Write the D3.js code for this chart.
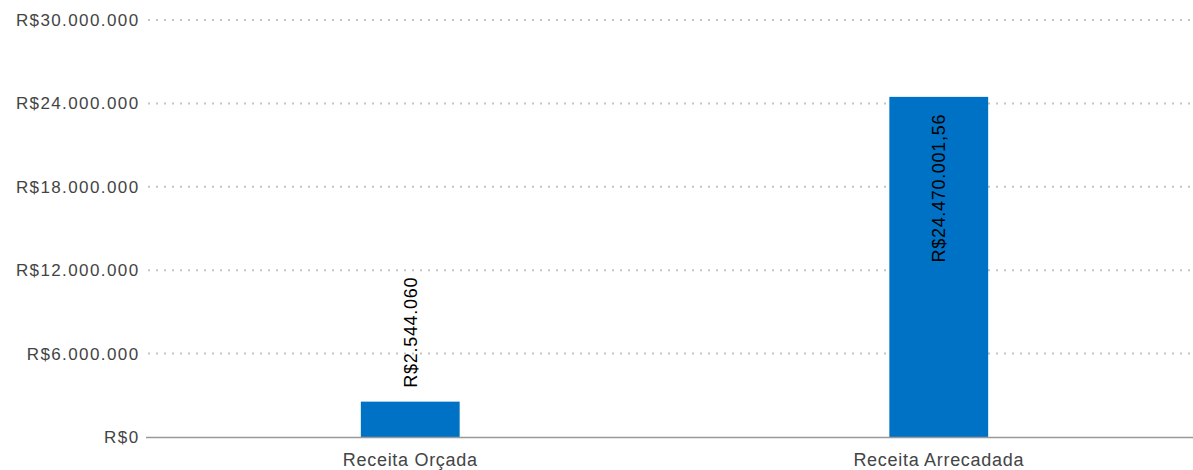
<!DOCTYPE html>
<html><head><meta charset="utf-8">
<script src="https://cdn.jsdelivr.net/npm/d3@7"></script>
<style>
html,body{margin:0;padding:0;background:#fff;}
svg{display:block;font-family:"Liberation Sans",Arial,sans-serif;}
</style></head>
<body>
<svg id="chart" width="1193" height="470"></svg>
<script>
const categories = ["Receita Orçada", "Receita Arrecadada"];
const values = [2544060, 24470001.56];
const yTicks = [0, 6000000, 12000000, 18000000, 24000000, 30000000];

const W = 1193, H = 470;
const svg = d3.select("#chart");
const loc = d3.formatLocale({decimal: ",", thousands: ".", grouping: [3], currency: ["R$", ""]});
const fmtTick = loc.format("$,.0f");
const fmtVal = loc.format("$,.2~f");

const y = d3.scaleLinear().domain([0, 30000000]).range([437, 20]);
const x = d3.scaleBand().domain(categories).range([146, 1203]).paddingInner(0.813).paddingOuter(0.4065);

// y axis labels
const yAxis = d3.axisLeft(y).tickValues(yTicks).tickFormat(fmtTick).tickSize(0).tickPadding(0);
const gy = svg.append("g").attr("transform", "translate(139.5,0)").call(yAxis);
gy.select(".domain").remove();
gy.selectAll("text").attr("fill", "#444").style("font-size", "17px").style("letter-spacing", "1.4px").attr("x", 0);

// gridlines
svg.append("g").selectAll("line").data(yTicks.filter(d => d > 0)).join("line")
  .attr("x1", 148).attr("x2", 1190)
  .attr("y1", d => y(d)).attr("y2", d => y(d))
  .attr("stroke", "#c4c4c4").attr("stroke-width", 2).attr("stroke-dasharray", "2,6");

// bars
svg.append("g").selectAll("rect").data(values).join("rect")
  .attr("x", (d, i) => x(categories[i]))
  .attr("width", x.bandwidth())
  .attr("y", d => y(d))
  .attr("height", d => y(0) - y(d))
  .attr("fill", "#0072c6");

// baseline
svg.append("line").attr("x1", 146).attr("x2", 1193).attr("y1", y(0) + 0.5).attr("y2", y(0) + 0.5)
  .attr("stroke", "#999").attr("stroke-width", 1.5);

// x labels
const xAxis = d3.axisBottom(x).tickSize(0).tickPadding(0);
const gx = svg.append("g").attr("transform", `translate(0,${y(0) + 16})`).call(xAxis);
gx.select(".domain").remove();
gx.selectAll("text").attr("fill", "#444").style("font-size", "18px").style("letter-spacing", "0.7px").attr("dy", "0.71em");

// value labels
svg.append("g").selectAll("text").data(values).join("text")
  .attr("transform", (d, i) => {
    const cx = x(categories[i]) + x.bandwidth() / 2;
    const inside = (y(0) - y(d)) > 200;
    const ty = inside ? y(d) + 17 : y(d) - 14;
    return `translate(${cx},${ty}) rotate(-90)`;
  })
  .attr("text-anchor", (d) => (y(0) - y(d)) > 200 ? "end" : "start")
  .attr("dy", "0.35em")
  .attr("fill", "#000")
  .style("font-size", "18px")
  .style("letter-spacing", "0.7px")
  .text(d => fmtVal(d));
</script>
</body></html>
